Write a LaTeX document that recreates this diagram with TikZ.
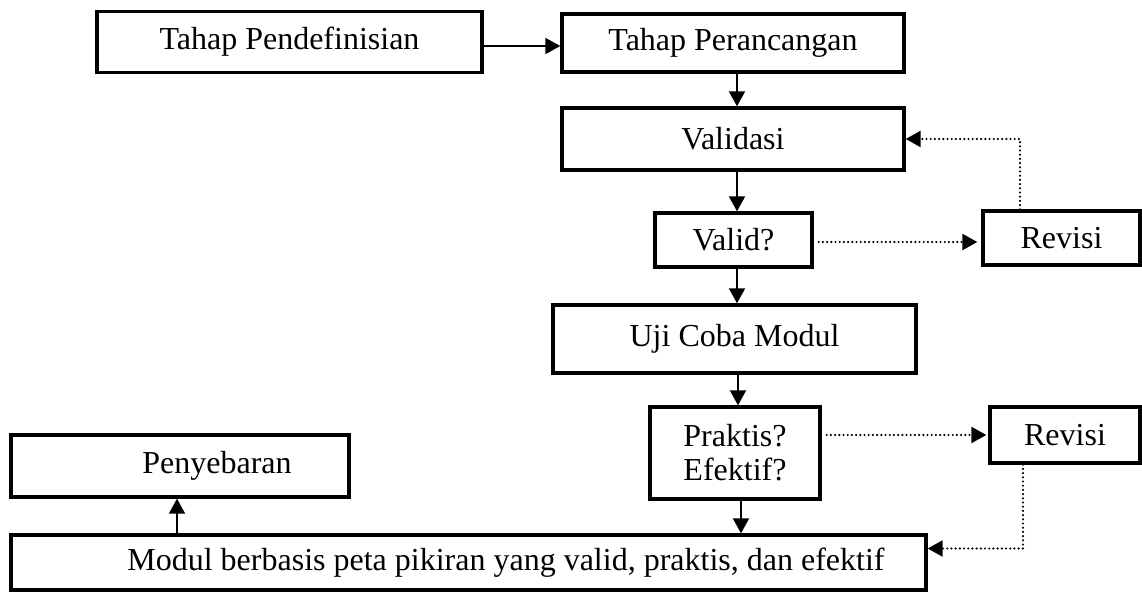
\documentclass[tikz,border=0pt]{standalone}
\usepackage{fontspec}
\setmainfont{Liberation Serif}
\usetikzlibrary{arrows.meta}
\begin{document}
\begin{tikzpicture}[x=0.5pt,y=-0.5pt,
  box/.style={draw, line width=1.7pt, inner sep=0pt, font=\fontsize{16pt}{17pt}\selectfont},
  arr/.style={line width=1pt, -{Triangle[length=7.5pt,width=8pt]}},
  dotarr/.style={line width=1.2pt, line cap=round, dash pattern=on 0pt off 2.1pt, -{Triangle[length=7.5pt,width=8pt]}}]
\useasboundingbox (0,0) rectangle (1142,595);
\node[box, minimum width=192.5pt, minimum height=30.5pt] (def) at (289.5,42) {Tahap Pendefinisian};
\node[box, minimum width=171pt, minimum height=29pt] (ranc) at (733,43) {Tahap Perancangan};
\node[box, minimum width=171pt, minimum height=31pt] (val) at (733,139) {Validasi};
\node[box, minimum width=78.5pt, minimum height=27pt] (vq) at (733.5,240) {Valid?};
\node[box, minimum width=78.5pt, minimum height=27pt] (rev1) at (1061.5,238) {Revisi};
\node[box, minimum width=181.5pt, minimum height=34pt] (uji) at (734.5,339) {Uji Coba Modul};
\node[box, minimum width=85pt, minimum height=46pt, align=center] (prak) at (735,453) {Praktis?\\Efektif?};
\node[box, minimum width=75pt, minimum height=28pt] (rev2) at (1065,435) {Revisi};
\node[box, minimum width=169pt, minimum height=31pt] (peny) at (180,466) {\hspace*{37pt}Penyebaran};
\node[box, minimum width=457.5pt, minimum height=27.5pt] (modul) at (468.5,562.5) {\hspace*{37.5pt}Modul berbasis peta pikiran yang valid, praktis, dan efektif};

\draw[arr] ([yshift=-2pt]def.east) -- ([yshift=-2pt]def.east -| ranc.west);
\draw[arr] ([xshift=2pt]ranc.south) -- ([xshift=2pt]ranc.south |- val.north);
\draw[arr] ([xshift=2pt]val.south) -- ([xshift=2pt]val.south |- vq.north);
\draw[arr] ([xshift=1.75pt]vq.south) -- ([xshift=1.75pt]vq.south |- uji.north);
\draw[arr] ([xshift=1.75pt]uji.south) -- ([xshift=1.75pt]uji.south |- prak.north);
\draw[arr] ([xshift=3pt]prak.south) -- ([xshift=3pt]prak.south |- modul.north);
\draw[arr] ([xshift=-1.5pt]peny.south |- modul.north) -- ([xshift=-1.5pt]peny.south);

\draw[dotarr, shorten <=2.5pt, shorten >=2pt] ([yshift=-1pt]vq.east) -- ([yshift=-1pt]vq.east -| rev1.west);
\draw[dotarr] ([xshift=-20.75pt]rev1.north) |- (val.east);
\draw[dotarr, shorten <=2.5pt, shorten >=1pt] (prak.east |- rev2.west) -- (rev2.west);
\draw[dotarr] ([xshift=-21pt]rev2.south) |- ([yshift=7pt]modul.east);
\end{tikzpicture}
\end{document}
